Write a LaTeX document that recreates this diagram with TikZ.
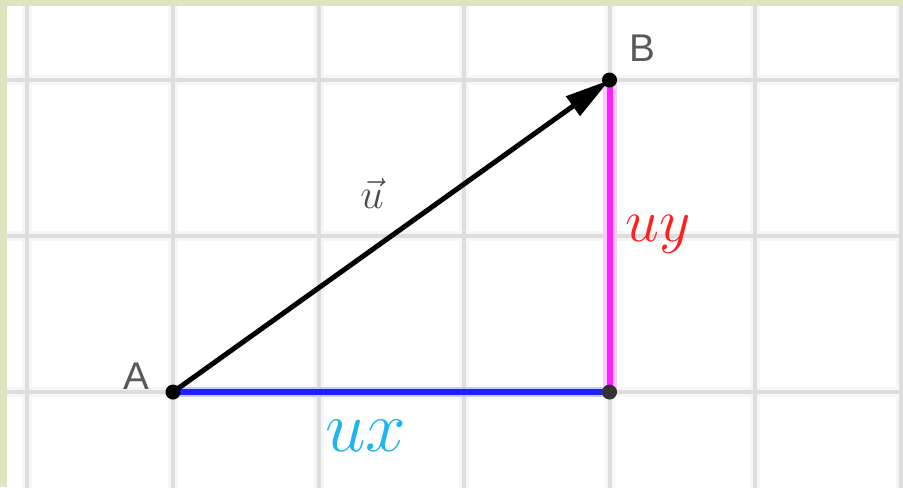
\documentclass[tikz,border=0pt]{standalone}
\usepackage{fontspec}
\newfontfamily\ptfont{Liberation Sans}
\usetikzlibrary{arrows.meta,positioning}
\definecolor{framegreen}{RGB}{221,229,192}
\definecolor{uxcyan}{RGB}{30,180,240}
\definecolor{uyred}{RGB}{255,32,32}
\definecolor{uxblue}{RGB}{32,32,255}
\definecolor{uymagenta}{RGB}{255,32,255}

\begin{document}
\begin{tikzpicture}[x=1.455cm, y=1.56cm,
  gridhalo/.style={line width=0.1cm, gray!7},
  gridcore/.style={line width=0.04cm, gray!27},
  pt/.style={circle, fill=black, inner sep=0pt, minimum size=0.15cm},
  ptlabel/.style={font=\ptfont\fontsize{11}{13}\selectfont, text=black!65},
  comp/.style={font=\fontsize{20}{24}\selectfont},
  >={Triangle[length=0.45cm, width=0.23cm]}]
  \useasboundingbox (-1.189,-0.609) rectangle (5.017,2.513);
  \clip (-1.189,-0.609) rectangle (5.017,2.513);
  % grid
  \foreach \gx in {-1,...,5} {
    \draw[gridhalo] (\gx,-1) -- (\gx,3);
  }
  \foreach \gy in {0,1,2} {
    \draw[gridhalo] (-2,\gy) -- (6,\gy);
  }
  \foreach \gx in {-1,...,5} {
    \draw[gridcore] (\gx,-1) -- (\gx,3);
  }
  \foreach \gy in {0,1,2} {
    \draw[gridcore] (-2,\gy) -- (6,\gy);
  }
  % frame
  \fill[framegreen] (-1.189,-0.609) rectangle (-1.141,2.513);
  \fill[framegreen] (-1.189,2.4745) rectangle (5.017,2.513);
  \coordinate (A) at (0,0);
  \coordinate (B) at (3,2);
  \coordinate (C) at (3,0);
  \draw[uxblue!25, line width=0.1cm] (A) -- (C);
  \draw[uxblue, line width=0.06cm] (A) -- (C);
  \draw[uymagenta!25, line width=0.14cm] (C) -- (B);
  \draw[uymagenta, line width=0.06cm] (C) -- (B);
  \draw[->, line width=0.05cm] (A) -- (B);
  \node[pt] (dA) at (A) {};
  \node[pt] (dB) at (B) {};
  \node[pt, fill=black!80] (dC) at (C) {};
  \node[ptlabel] (labA) at (-0.254,0.103) {A};
  \node[ptlabel] (labB) at (3.223,2.205) {B};
  \node[font=\fontsize{12}{14}\selectfont, text=black!70] (labu) at (1.368,1.276) {$\vec{u}$};
  \node[comp, text=uxcyan] (labux) at (1.326,-0.282) {$ux$};
  \node[comp, font=\fontsize{17}{20}\selectfont, text=uyred] (labuy) at (3.333,1.013) {$uy$};
\end{tikzpicture}
\end{document}
